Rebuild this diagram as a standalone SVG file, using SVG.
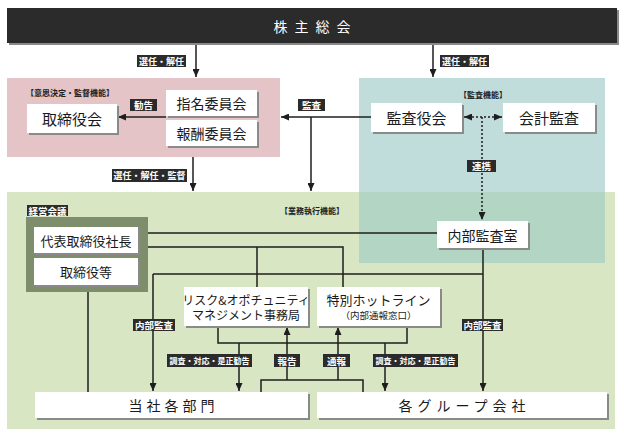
<svg xmlns="http://www.w3.org/2000/svg" width="624" height="442" viewBox="0 0 624 442">
<defs>
<style>
text{font-family:"Noto Sans CJK JP","Noto Sans",sans-serif;text-anchor:middle;dominant-baseline:central;fill:#1a1a1a}
.box{fill:#fff}
.sh{fill:#8a8a8a}
.lbl rect{fill:#2b2b2b}
.lbl text{fill:#fff;font-size:9px;font-weight:bold}
.lbl text.s{font-size:8px}
.lbl text.m{font-size:9.5px}
.br{font-size:8px;font-weight:bold;fill:#222}
.ln{fill:none;stroke:#1e1e1e;stroke-width:1.5}
.dot{fill:none;stroke:#1e1e1e;stroke-width:1.5;stroke-dasharray:2 2}
.t15{font-size:15px}
.t14{font-size:14px}
.t13{font-size:13px}
</style>
<marker id="ar" markerUnits="userSpaceOnUse" markerWidth="8" markerHeight="7" refX="8" refY="3.5" orient="auto-start-reverse"><path d="M0,0 L8,3.5 L0,7 z" fill="#1e1e1e"/></marker>
</defs>

<g id="panels">
<rect x="7" y="78" width="273" height="79" fill="#e4c4c7"/>
<rect x="7" y="192" width="608" height="237" fill="#d8e6c3"/>
<rect x="359" y="78" width="246" height="114" fill="#c1dddb"/>
<rect x="359" y="192" width="246" height="71" fill="#b3d5c4"/>
<text class="br" x="70" y="92">【意思決定・監督機能】</text>
<text class="br" x="483" y="94">【監査機能】</text>
<text class="br" x="312" y="210">【業務執行機能】</text>
</g>

<g id="connectors">
<path class="ln" d="M196,43 V77" marker-end="url(#ar)"/>
<path class="ln" d="M433,43 V77" marker-end="url(#ar)"/>
<path class="ln" d="M166,117 H118" marker-end="url(#ar)"/>
<path class="ln" d="M371,117 H281" marker-end="url(#ar)"/>
<path class="ln" d="M311,117 V191" marker-end="url(#ar)"/>
<path class="ln" d="M193,157 V191" marker-end="url(#ar)"/>
<path class="dot" d="M464,117 H502" marker-start="url(#ar)" marker-end="url(#ar)"/>
<path class="dot" d="M482,117 V220" marker-end="url(#ar)"/>
<path class="ln" d="M138,233 H437"/>
<path class="ln" d="M138,247 H343 V287"/>
<path class="ln" d="M257,247 V287"/>
<path class="ln" d="M153,274 H483"/>
<path class="ln" d="M153,274 V391" marker-end="url(#ar)"/>
<path class="ln" d="M483,248 V391" marker-end="url(#ar)"/>
<path class="ln" d="M88,285 V392"/>
<path class="ln" d="M218,326 V343 H407 V326"/>
<path class="ln" d="M239,343 V391" marker-end="url(#ar)"/>
<path class="ln" d="M385,343 V391" marker-end="url(#ar)"/>
<path class="ln" d="M261,392 V380 H363 V392"/>
<path class="ln" d="M287,380 V327" marker-end="url(#ar)"/>
<path class="ln" d="M338,380 V327" marker-end="url(#ar)"/>
</g>

<g id="labels">
<g class="lbl"><rect x="137" y="55" width="49" height="12"/><text x="161.5" y="61">選任・解任</text></g>
<g class="lbl"><rect x="440" y="55" width="49" height="12"/><text x="464.5" y="61">選任・解任</text></g>
<g class="lbl"><rect x="130" y="99" width="27" height="12"/><text class="m" x="143.5" y="105">勧告</text></g>
<g class="lbl"><rect x="298" y="99" width="27" height="12"/><text class="m" x="311.5" y="105">監査</text></g>
<g class="lbl"><rect x="112" y="169" width="75" height="13"/><text x="149.5" y="175.5">選任・解任・監督</text></g>
<g class="lbl"><rect x="467" y="160" width="29" height="12"/><text class="m" x="481.5" y="166">連携</text></g>
<g class="lbl"><rect x="27" y="205" width="41" height="11"/><text class="m" x="47.5" y="210.5">経営会議</text></g>
<g class="lbl"><rect x="133" y="319" width="42" height="12"/><text class="m" x="154" y="325">内部監査</text></g>
<g class="lbl"><rect x="462" y="319" width="41" height="12"/><text class="m" x="482.5" y="325">内部監査</text></g>
<g class="lbl"><rect x="167" y="354" width="85" height="13"/><text class="s" x="209.5" y="360.5">調査・対応・是正勧告</text></g>
<g class="lbl"><rect x="373" y="354" width="85" height="13"/><text class="s" x="415.5" y="360.5">調査・対応・是正勧告</text></g>
<g class="lbl"><rect x="274" y="354" width="26" height="13"/><text class="m" x="287" y="360.5">報告</text></g>
<g class="lbl"><rect x="323" y="354" width="27" height="13"/><text class="m" x="336.5" y="360.5">通報</text></g>
</g>

<g id="shareholders">
<rect x="9" y="10" width="610" height="35" class="sh"/>
<rect x="7" y="8" width="610" height="35" fill="#2b2b2b"/>
<text x="315.5" y="26" class="t14" style="fill:#fff;letter-spacing:7px">株主総会</text>
</g>

<g id="board">
<rect x="29" y="106" width="90" height="29" class="sh"/>
<rect x="27" y="104" width="90" height="29" class="box"/>
<text x="72" y="118.5" class="t15">取締役会</text>
</g>
<g id="nomination">
<rect x="168" y="92" width="91" height="26" class="sh"/>
<rect x="166" y="90" width="91" height="26" class="box"/>
<text x="211.5" y="103" class="t14">指名委員会</text>
</g>
<g id="compensation">
<rect x="168" y="122" width="91" height="26" class="sh"/>
<rect x="166" y="120" width="91" height="26" class="box"/>
<text x="211.5" y="133" class="t14">報酬委員会</text>
</g>
<g id="auditboard">
<rect x="373" y="105" width="91" height="29" class="sh"/>
<rect x="371" y="103" width="91" height="29" class="box"/>
<text x="416.5" y="117.5" class="t15">監査役会</text>
</g>
<g id="accounting">
<rect x="505" y="105" width="92" height="29" class="sh"/>
<rect x="503" y="103" width="92" height="29" class="box"/>
<text x="549" y="117.5" class="t15">会計監査</text>
</g>
<g id="mgmt">
<rect x="26" y="217" width="122" height="75" fill="#7e8d6c"/>
<g id="president">
<rect x="36" y="229" width="104" height="26" class="sh"/>
<rect x="34" y="227" width="104" height="26" class="box"/>
<text x="86" y="240" class="t13">代表取締役社長</text>
</g>
<g id="directors">
<rect x="36" y="260" width="104" height="27" class="sh"/>
<rect x="34" y="258" width="104" height="27" class="box"/>
<text x="86" y="271.5" class="t13">取締役等</text>
</g>
</g>
<g id="internalaudit">
<rect x="439" y="223" width="91" height="27" class="sh"/>
<rect x="437" y="221" width="91" height="27" class="box"/>
<text x="482.5" y="234.5" class="t14">内部監査室</text>
</g>
<g id="risk">
<rect x="186" y="289" width="124" height="39" class="sh"/>
<rect x="184" y="287" width="124" height="39" class="box"/>
<text x="246" y="299" style="font-size:12px">リスク&amp;オポチュニティ</text>
<text x="246" y="314.5" style="font-size:12px">マネジメント事務局</text>
</g>
<g id="hotline">
<rect x="319" y="289" width="123" height="39" class="sh"/>
<rect x="317" y="287" width="123" height="39" class="box"/>
<text x="378.5" y="299.5" class="t13">特別ホットライン</text>
<text x="378.5" y="315" style="font-size:9.5px">（内部通報窓口）</text>
</g>
<g id="departments">
<rect x="37" y="394" width="273" height="26" class="sh"/>
<rect x="35" y="392" width="273" height="26" class="box"/>
<text x="173.5" y="405" class="t14" style="letter-spacing:4px">当社各部門</text>
</g>
<g id="group">
<rect x="319" y="394" width="290" height="26" class="sh"/>
<rect x="317" y="392" width="290" height="26" class="box"/>
<text x="464.5" y="405" class="t14" style="letter-spacing:5px">各グループ会社</text>
</g>
</svg>
